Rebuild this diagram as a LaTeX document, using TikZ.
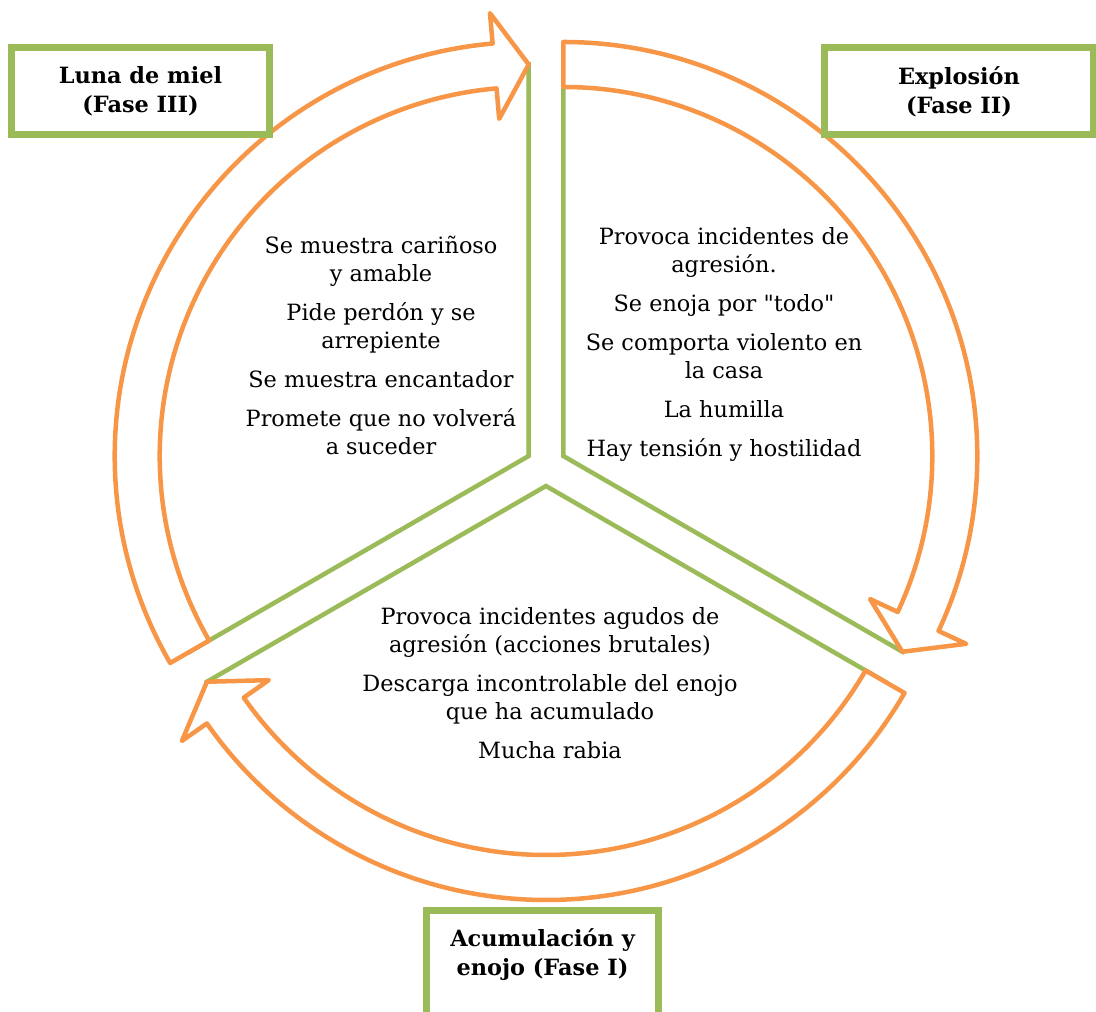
\documentclass[tikz,border=0pt]{standalone}
\usepackage{fontspec}
\setmainfont{DejaVu Serif}
\usetikzlibrary{calc}
\definecolor{arroworange}{HTML}{F79646}
\definecolor{boxgreen}{HTML}{9BBB59}
\begin{document}
\begin{tikzpicture}[x=0.5pt, y=0.5pt,
    sector/.style={draw=boxgreen, line width=2.25pt, fill=white},
    cyclearrow/.style={draw=arroworange, line width=2.25pt, fill=white, line join=round},
    phasebox/.style={draw=boxgreen, line width=3.5pt, fill=white},
    phasetext/.style={font=\bfseries\fontsize{11.2}{14.5}\selectfont, align=center},
    bodytext/.style={font=\fontsize{11.2}{14}\selectfont, align=center}]
    \useasboundingbox (0,0) rectangle (1096,1011);
    \clip (0,0) rectangle (1096,1011);
    % centres of the three pulled-apart sectors
    \coordinate (L) at (528.7,555);
    \coordinate (E) at (563.3,555);
    \coordinate (A) at (546,525);

    % sectors
    \draw[sector] (L) -- ++(90:391.5) arc[start angle=90, end angle=210, radius=391.5] -- cycle;
    \draw[sector] (E) -- ++(90:391.5) arc[start angle=90, end angle=-30, radius=391.5] -- cycle;
    \draw[sector] (A) -- ++(-30:391.5) arc[start angle=-30, end angle=-150, radius=391.5] -- cycle;

    % arrows round the cycle
    \draw[cyclearrow] ($(L)+(210:414)$) arc[start angle=210, end angle=95, radius=414]
        -- ($(L)+(95:444.5)$) -- ($(L)+(90:391.5)$) -- ($(L)+(95:338.5)$)
        -- ($(L)+(95:369)$) arc[start angle=95, end angle=210, radius=369] -- cycle;
    \draw[cyclearrow] ($(E)+(90:414)$) arc[start angle=90, end angle=-25, radius=414]
        -- ($(E)+(-25:444.5)$) -- ($(E)+(-30:391.5)$) -- ($(E)+(-25:338.5)$)
        -- ($(E)+(-25:369)$) arc[start angle=-25, end angle=90, radius=369] -- cycle;
    \draw[cyclearrow] ($(A)+(-30:414)$) arc[start angle=-30, end angle=-145, radius=414]
        -- ($(A)+(-145:444.5)$) -- ($(A)+(-150:391.5)$) -- ($(A)+(-145:338.5)$)
        -- ($(A)+(-145:369)$) arc[start angle=-145, end angle=-30, radius=369] -- cycle;

    % texts inside the sectors
    \node[bodytext] (lunatext) at (381,666) {Se muestra cariñoso\\y amable\\[5.5pt]Pide perdón y se\\arrepiente\\[5.5pt]Se muestra encantador\\[5.5pt]Promete que no volverá\\a suceder};
    \node[bodytext] (explosiontext) at (724,667) {Provoca incidentes de\\agresión.\\[5.5pt]Se enoja por \textquotedbl todo\textquotedbl\\[5.5pt]Se comporta violento en\\la casa\\[5.5pt]La humilla\\[5.5pt]Hay tensión y hostilidad};
    \node[bodytext] (acumulaciontext) at (550,328) {Provoca incidentes agudos de\\agresión (acciones brutales)\\[5.5pt]Descarga incontrolable del enojo\\que ha acumulado\\[5.5pt]Mucha rabia};

    % phase boxes
    \draw[phasebox] (11.5,963.5) rectangle (269.5,876.5);
    \node[phasetext] (luna) at (140.5,919.5) {Luna de miel\\(Fase III)};
    \draw[phasebox] (824.5,963.5) rectangle (1093,876.5);
    \node[phasetext] (explosion) at (959,919.5) {Explosión\\(Fase II)};
    \draw[phasebox] (426.5,100.5) rectangle (658.5,-20);
    \node[phasetext] (acumulacion) at (542.5,56) {Acumulación y\\enojo (Fase I)};
\end{tikzpicture}
\end{document}
